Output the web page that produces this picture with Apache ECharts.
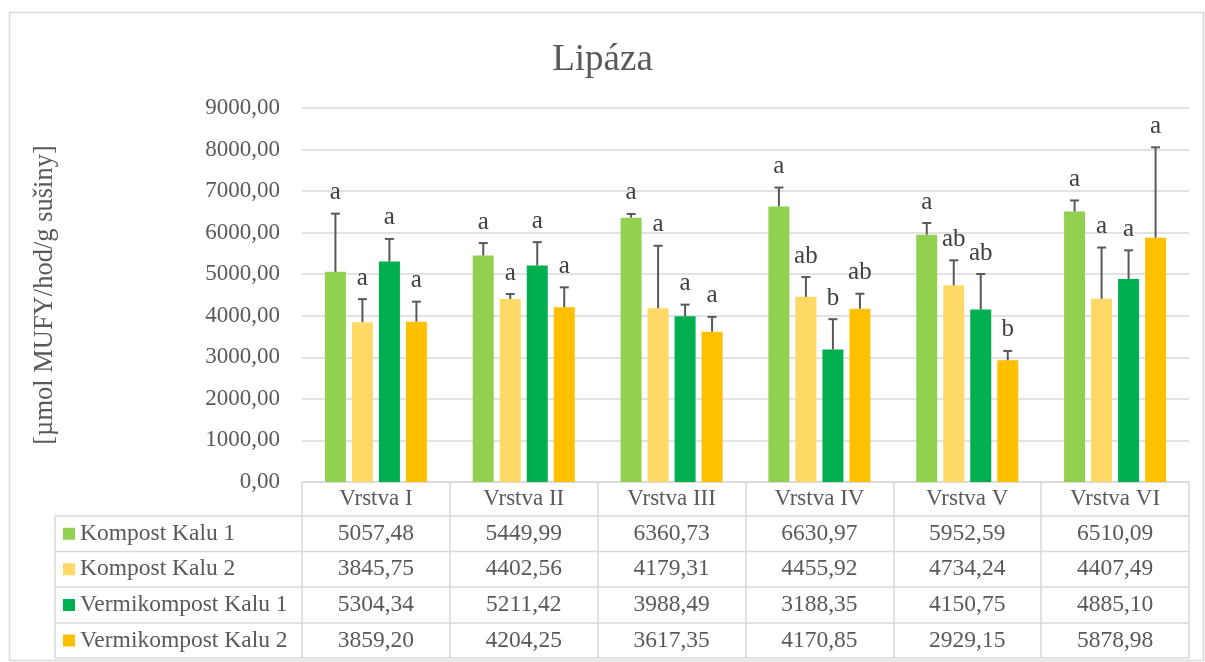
<!DOCTYPE html>
<html>
<head>
<meta charset="utf-8">
<script src="https://cdn.jsdelivr.net/npm/echarts@6/dist/echarts.min.js"></script>
<style>
  html, body { margin: 0; padding: 0; background: #fff; }
  #chart { width: 1205px; height: 662px; }
</style>
</head>
<body>
<div id="chart"></div>
<script>
const layers = ["Vrstva I", "Vrstva II", "Vrstva III", "Vrstva IV", "Vrstva V", "Vrstva VI"];
const seriesNames = ["Kompost Kalu 1", "Kompost Kalu 2", "Vermikompost Kalu 1", "Vermikompost Kalu 2"];
const colors = ["#92d050", "#ffd966", "#00b050", "#ffc000"];

const kompost1 = [5057.48, 5449.99, 6360.73, 6630.97, 5952.59, 6510.09];
const kompost2 = [3845.75, 4402.56, 4179.31, 4455.92, 4734.24, 4407.49];
const vermi1 = [5304.34, 5211.42, 3988.49, 3188.35, 4150.75, 4885.10];
const vermi2 = [3859.20, 4204.25, 3617.35, 4170.85, 2929.15, 5878.98];

// smerodatne odchylky (odhad z obrazku)
const sdKompost1 = [1400, 300, 90, 455, 280, 265];
const sdKompost2 = [555, 120, 1505, 475, 600, 1235];
const sdVermi1 = [545, 560, 280, 730, 855, 690];
const sdVermi2 = [480, 480, 355, 360, 225, 2175];

const lettersKompost1 = ["a", "a", "a", "a", "a", "a"];
const lettersKompost2 = ["a", "a", "a", "ab", "ab", "a"];
const lettersVermi1 = ["a", "a", "a", "b", "ab", "a"];
const lettersVermi2 = ["a", "a", "a", "ab", "b", "a"];

const yTicks = [0, 1000, 2000, 3000, 4000, 5000, 6000, 7000, 8000, 9000];

const values = [kompost1, kompost2, vermi1, vermi2];
const sds = [sdKompost1, sdKompost2, sdVermi1, sdVermi2];
const letters = [lettersKompost1, lettersKompost2, lettersVermi1, lettersVermi2];

const FONT = '"Liberation Serif", "Times New Roman", serif';
const TXT = "#595959";
const LINE = "#d9d9d9";
const BAR_W = 21;
const BAR_STEP = 27;

const fmt = v => v.toFixed(2).replace(".", ",");

const chart = echarts.init(document.getElementById("chart"));

const errData = [];
values.forEach((arr, s) => {
  arr.forEach((v, c) => {
    errData.push([c, v, sds[s][c], s, letters[s][c]]);
  });
});

function renderErr(params, api) {
  const c = api.value(0);
  const v = api.value(1);
  const sd = api.value(2);
  const s = api.value(3);
  const letter = errData[params.dataIndex][4];
  const base = api.coord([c, v]);
  const top = api.coord([c, v + sd]);
  const x = base[0] + (s - 1.5) * BAR_STEP;
  const st = { stroke: "#595959", lineWidth: 2 };
  return {
    type: "group",
    children: [
      { type: "line", shape: { x1: x, y1: base[1], x2: x, y2: top[1] }, style: st },
      { type: "line", shape: { x1: x - 4.5, y1: top[1], x2: x + 4.5, y2: top[1] }, style: st },
      {
        type: "text",
        style: {
          text: letter, x: x, y: top[1] - 21,
          align: "center", verticalAlign: "middle",
          font: '25px ' + FONT, fill: "#404040"
        }
      }
    ]
  };
}

const option = {
  animation: false,
  title: {
    text: "Lipáza",
    left: "center",
    top: 37,
    textStyle: { fontFamily: FONT, fontSize: 37, fontWeight: "normal", color: TXT }
  },
  grid: { left: 302, right: 16, top: 108, bottom: 180, containLabel: false },
  xAxis: {
    type: "category",
    data: layers,
    boundaryGap: true,
    axisLine: { lineStyle: { color: LINE, width: 1.5 } },
    axisTick: { show: true, length: 176, lineStyle: { color: LINE, width: 1.5 } },
    axisLabel: { margin: 5, fontFamily: FONT, fontSize: 23, color: TXT }
  },
  yAxis: {
    type: "value",
    min: 0,
    max: yTicks[yTicks.length - 1],
    interval: yTicks[1] - yTicks[0],
    axisLine: { show: false },
    axisTick: { show: false },
    splitLine: { lineStyle: { color: LINE, width: 1.5 } },
    axisLabel: { margin: 22, fontFamily: FONT, fontSize: 23, color: TXT, formatter: v => fmt(v) }
  },
  series: values.map((arr, s) => ({
    name: seriesNames[s],
    type: "bar",
    data: arr,
    barWidth: BAR_W,
    barGap: ((BAR_STEP - BAR_W) / BAR_W * 100).toFixed(1) + "%",
    itemStyle: { color: colors[s] }
  })).concat([{
    type: "custom",
    renderItem: renderErr,
    data: errData,
    z: 10
  }])
};

chart.setOption(option);

// datova tabulka pod grafem
const rowLines = [516, 551.5, 587, 623, 658];
const tableLeft = 55;
const tableRight = 1189;
const graphic = [
  { type: "rect", shape: { x: 9.5, y: 12.5, width: 1194, height: 648 }, style: { fill: "none", stroke: LINE, lineWidth: 1.5 }, silent: true },
  { type: "text", x: 45, y: 295, rotation: Math.PI / 2,
    style: { text: "[µmol MUFY/hod/g sušiny]", align: "center", verticalAlign: "middle", font: '26.5px ' + FONT, fill: TXT } },
  { type: "line", shape: { x1: tableLeft, y1: rowLines[0], x2: tableLeft, y2: rowLines[4] }, style: { stroke: LINE, lineWidth: 1.5 } }
];
rowLines.forEach(y => {
  graphic.push({ type: "line", shape: { x1: tableLeft, y1: y, x2: tableRight, y2: y }, style: { stroke: LINE, lineWidth: 1.5 } });
});
seriesNames.forEach((name, s) => {
  const cy = (rowLines[s] + rowLines[s + 1]) / 2;
  graphic.push({ type: "rect", shape: { x: 63, y: cy - 6, width: 12, height: 12 }, style: { fill: colors[s] } });
  graphic.push({ type: "text", style: { text: name, x: 80, y: cy, align: "left", verticalAlign: "middle", font: '23.5px ' + FONT, fill: TXT } });
  values[s].forEach((v, c) => {
    const cx = chart.convertToPixel({ xAxisIndex: 0 }, c);
    graphic.push({ type: "text", style: { text: fmt(v), x: cx, y: cy, align: "center", verticalAlign: "middle", font: '23.5px ' + FONT, fill: TXT } });
  });
});
chart.setOption({ graphic: graphic });
</script>
</body>
</html>
